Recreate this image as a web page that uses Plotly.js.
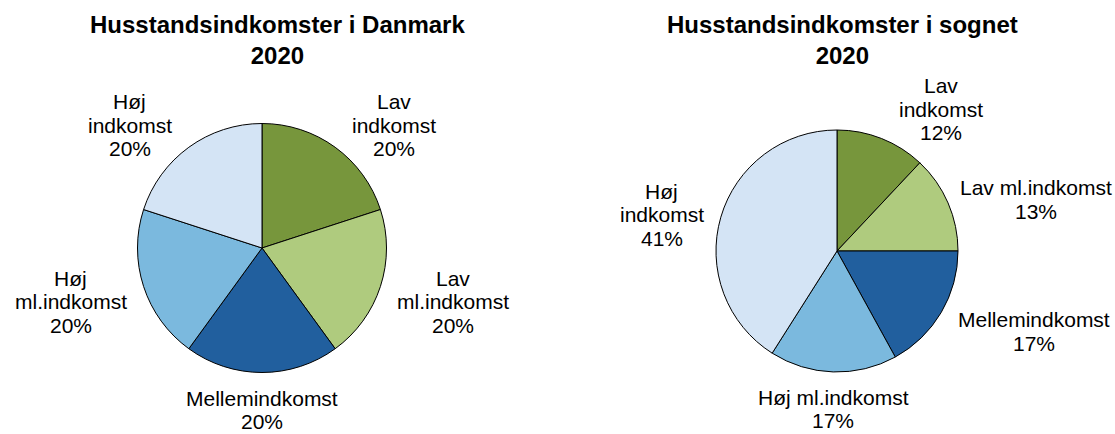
<!DOCTYPE html>
<html><head><meta charset="utf-8">
<script src="https://cdn.plot.ly/plotly-3.0.1.min.js"></script>
<style>html,body{margin:0;padding:0;background:#fff}#chart{width:1115px;height:434px}</style>
</head><body><div id="chart"></div>
<script>
// ---- data ----
const categories = ['Lav indkomst', 'Lav ml.indkomst', 'Mellemindkomst', 'Høj ml.indkomst', 'Høj indkomst'];
const valuesDanmark = [20, 20, 20, 20, 20];
const valuesSognet = [12, 13, 17, 17, 41];
const labelsDanmark = ['Lav<br>indkomst', 'Lav<br>ml.indkomst', 'Mellemindkomst', 'Høj<br>ml.indkomst', 'Høj<br>indkomst'];
const labelsSognet = ['Lav<br>indkomst', 'Lav ml.indkomst', 'Mellemindkomst', 'Høj ml.indkomst', 'Høj<br>indkomst'];
const titleDanmark = ['Husstandsindkomster i Danmark', '2020'];
const titleSognet = ['Husstandsindkomster i sognet', '2020'];

// ---- style / layout ----
const W = 1115, H = 434;
const colors = ['#77963C', '#AFCB7E', '#215F9E', '#7BB9DE', '#D4E4F5'];
const FONT = '"Liberation Sans", Arial, sans-serif';
const FS = 21, LS = 23.5, TFS = 24;
const GAPX = 17, BOTTOM = 15, EDGE = 3;
const boxL = {x0: 137.5, x1: 386.5, y0: 123.5, y1: 372.5};
const boxR = {x0: 716, x1: 958, y0: 130, y1: 372};
const titlePosL = {x: 277, y: 40};
const titlePosR = {x: 842, y: 40};

const ctx = document.createElement('canvas').getContext('2d');
ctx.font = FS + 'px ' + FONT;
const measure = t => ctx.measureText(t).width;

function domainOf(b) {
  return {x: [b.x0 / W, b.x1 / W], y: [1 - b.y1 / H, 1 - b.y0 / H]};
}

function labelAnnotations(values, labels, b) {
  const cx = (b.x0 + b.x1) / 2, cy = (b.y0 + b.y1) / 2;
  const r = Math.min(b.x1 - b.x0, b.y1 - b.y0) / 2;
  const total = values.reduce((a, c) => a + c, 0);
  let cum = 0;
  const anns = [];
  values.forEach((v, i) => {
    const mid = (cum + v / 2) / total * 2 * Math.PI;
    cum += v;
    const ux = Math.sin(mid), uy = -Math.cos(mid);
    const px = cx + r * ux, py = cy + r * uy;
    const lines = labels[i].split('<br>').concat([Math.round(v / total * 100) + '%']);
    const n = lines.length;
    const w = Math.max(...lines.map(measure)) / 2;
    const h = ((n - 1) * LS + FS) / 2;
    let bx = Math.abs(ux) < 0.25 ? px : px + Math.sign(ux) * (GAPX + w);
    bx = Math.min(Math.max(bx, w + EDGE), W - w - EDGE);
    const by = uy < 0 ? py + h * uy * Math.abs(uy) : py + (h + BOTTOM) * uy;
    lines.forEach((t, j) => {
      anns.push({
        text: t, xref: 'paper', yref: 'paper',
        x: bx / W, y: 1 - (by + (j - (n - 1) / 2) * LS) / H,
        xanchor: 'center', yanchor: 'middle', showarrow: false,
        font: {family: FONT, size: FS, color: '#000'}
      });
    });
  });
  return anns;
}

function titleAnnotation(lines, pos) {
  return {
    text: lines.map(t => '<b>' + t + '</b>').join('<br>'), xref: 'paper', yref: 'paper',
    x: pos.x / W, y: 1 - pos.y / H, align: 'center',
    xanchor: 'center', yanchor: 'middle', showarrow: false,
    font: {family: FONT, size: TFS, color: '#000'}
  };
}

function pieTrace(values, b) {
  return {
    type: 'pie', values: values, labels: categories, sort: false,
    direction: 'clockwise', rotation: 0, textinfo: 'none', hoverinfo: 'skip',
    marker: {colors: colors, line: {color: '#000', width: 1}},
    domain: domainOf(b)
  };
}

const data = [pieTrace(valuesDanmark, boxL), pieTrace(valuesSognet, boxR)];
const layout = {
  width: W, height: H, margin: {l: 0, r: 0, t: 0, b: 0},
  paper_bgcolor: '#fff', showlegend: false,
  annotations: [].concat(
    [titleAnnotation(titleDanmark, titlePosL), titleAnnotation(titleSognet, titlePosR)],
    labelAnnotations(valuesDanmark, labelsDanmark, boxL),
    labelAnnotations(valuesSognet, labelsSognet, boxR)
  )
};
Plotly.newPlot('chart', data, layout, {staticPlot: true, displayModeBar: false});
</script>
</body></html>
